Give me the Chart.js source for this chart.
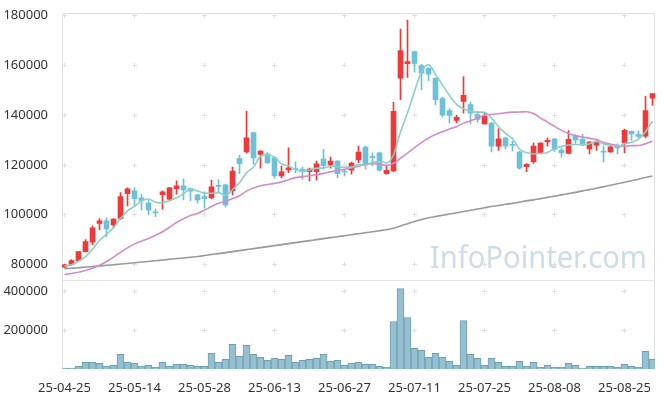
<!DOCTYPE html>
<html><head><meta charset="utf-8">
<script src="https://cdn.jsdelivr.net/npm/chart.js@4.4.1/dist/chart.umd.min.js"></script>
<style>html,body{margin:0;padding:0;background:#fff;}#wrap{position:relative;width:665px;height:398px;}</style>
</head><body><div id="wrap"><canvas id="c" width="665" height="398"></canvas></div>
<script>
const dates = ['25-04-25','25-04-28','25-04-29','25-04-30','25-05-02','25-05-07','25-05-08','25-05-09','25-05-12','25-05-13',
'25-05-14','25-05-15','25-05-16','25-05-19','25-05-20','25-05-21','25-05-22','25-05-23','25-05-26','25-05-27',
'25-05-28','25-05-29','25-05-30','25-06-02','25-06-04','25-06-05','25-06-09','25-06-10','25-06-11','25-06-12',
'25-06-13','25-06-16','25-06-17','25-06-18','25-06-19','25-06-20','25-06-23','25-06-24','25-06-25','25-06-26',
'25-06-27','25-06-30','25-07-01','25-07-02','25-07-03','25-07-04','25-07-07','25-07-08','25-07-09','25-07-10',
'25-07-11','25-07-14','25-07-15','25-07-16','25-07-17','25-07-18','25-07-21','25-07-22','25-07-23','25-07-24',
'25-07-25','25-07-28','25-07-29','25-07-30','25-07-31','25-08-01','25-08-04','25-08-05','25-08-06','25-08-07',
'25-08-08','25-08-11','25-08-12','25-08-13','25-08-14','25-08-18','25-08-19','25-08-20','25-08-21','25-08-22',
'25-08-25','25-08-26','25-08-27','25-08-28','25-08-29'];

const openP = [78900,79900,81600,85200,89000,96500,97600,95900,98500,108500,
109600,106800,104700,101000,108100,106300,110500,111600,110500,108000,
107300,106800,111800,112000,109600,122700,125300,133000,124300,124500,
122900,115600,118000,118400,118400,117300,117300,122400,120000,121600,
117500,117900,122100,127200,123300,124900,116500,117600,154900,160800,
165600,160000,158900,154900,146700,141900,137900,145600,144300,140300,
136500,136900,127600,130800,128100,125200,119300,121300,124900,129300,
130400,126000,124700,131600,130300,126500,128000,125600,125300,127500,
128900,133600,132300,131600,146900];
const highP = [80100,82000,85300,90000,95600,98500,98800,98500,108900,110800,
110900,108300,105700,102300,109600,111000,113600,114500,110700,108200,
109200,114000,114200,112300,119200,124000,141600,133200,125800,125000,
123200,119600,126900,121300,119200,118800,121600,126300,123200,121800,
118300,121200,127600,127700,124900,125200,120000,145200,174700,178300,
165800,160500,159200,155200,147200,142700,140000,155600,145300,141600,
140800,137200,134700,131200,129600,125500,120600,128900,129000,130900,
130700,126900,133900,132200,132300,129500,129700,127600,127700,128500,
134500,133800,133800,147600,148700];
const lowP = [78700,79600,81400,85000,87900,94000,91200,94900,98000,103600,
103600,102000,99900,99200,102300,106000,108300,106000,105600,104700,
102700,106500,108900,103200,108000,116500,124800,120300,118700,120500,
114700,114900,116900,116900,114300,113600,113900,118300,118700,114900,
115600,116300,120900,118300,119600,117600,116300,117300,146300,155200,
157300,150300,153900,144300,139200,136900,136900,140900,136500,137200,
136400,125300,125900,126500,125600,118300,117300,120600,124500,127600,
125500,123200,124500,128400,128000,124500,125900,121300,125100,124500,
124900,129900,131000,130900,144000];
const closeP = [79900,81600,85200,89200,94800,97600,94300,98300,107300,110400,
106500,105700,101900,100800,109200,110800,111600,110000,109500,106000,
106500,111200,111400,104000,117600,120500,130900,122900,125600,120900,
115600,117300,118900,118200,117300,118400,120500,119700,121600,116500,
117200,120800,125200,120000,123000,117900,117900,141600,166000,161600,
160900,156900,156500,146300,140000,139900,139200,148000,140900,138300,
139600,127600,130500,127600,127900,118700,120300,127600,128800,129900,
126300,124900,130300,130000,128500,129200,129300,125200,127300,126900,
134000,132500,131500,141900,148700];
const volume = [5000,5000,13700,34000,34000,29000,15400,18800,75200,34000,
29000,15400,18800,8500,34000,13700,24000,24000,18800,13700,
13700,80300,34000,49600,126500,65000,121300,75200,59800,44400,
54700,49600,70000,34000,44400,49600,54700,75200,39300,44400,
18800,29000,34000,24000,24000,13700,8500,244400,413600,264900,
106000,95700,59800,80300,59800,39300,18800,249500,75200,54700,
18800,54700,34000,13700,13700,39300,13700,34000,8500,18800,
8500,8500,29000,18800,5100,13700,13700,13700,13700,8500,
24000,13700,8500,90600,49600];
const ma5 = [79300,79900,81300,83200,86140,89680,92220,94840,98460,101580,
103360,105640,106360,105060,104820,105680,106860,108480,110220,109580,
108720,108640,108920,107820,110140,112940,116880,119180,123500,124160,
123180,120460,119660,118180,117460,118020,118660,118820,119500,119340,
119100,119160,120260,119940,121240,121380,120800,124080,133280,141000,
149600,157400,160380,156440,152120,147920,144380,142680,141600,141260,
141200,138880,135380,132720,130640,126460,125000,124420,124660,125060,
126580,127500,128040,128280,128000,128580,129460,128440,127900,127580,
128540,129180,130440,133360,137720];
const ma20 = [76000,76400,76900,77600,78500,79700,81200,83000,84900,86700,
88300,89400,90500,91800,93200,95000,96900,98400,99700,100530,
101860,103340,104650,105390,106530,107675,109505,110735,111650,112175,
112630,113210,114060,114930,115335,115715,116160,116645,117250,117775,
118310,118790,119480,120280,120550,120420,119770,120705,122725,124760,
127025,129005,130885,132290,133425,134500,135435,136850,137815,138905,
140025,140365,140630,141010,141255,141295,141415,140715,138855,137270,
135540,133940,132630,131815,131240,130705,130210,129070,128390,127820,
127540,127785,127835,128550,129590];
const ma120 = [78300,78500,78700,79000,79200,79400,79700,79900,80200,80400,
80700,81000,81200,81500,81800,82100,82400,82600,82900,83200,
83600,84000,84400,84800,85200,85600,86000,86400,86800,87200,
87600,88000,88400,88800,89200,89600,90000,90400,90800,91200,
91600,92000,92400,92800,93200,93600,94000,94600,95500,96400,
97300,98100,98800,99300,99800,100300,100800,101300,101800,102300,
102800,103300,103700,104200,104600,105100,105600,106000,106500,107000,
107500,108000,108500,109000,109600,110100,110700,111300,111900,112500,
113100,113700,114300,115000,115600];
const priceTicks = [80000,100000,120000,140000,160000,180000];
const volumeTicks = [200000,400000];
const labelStep = 10;
const watermark = 'InfoPointer.com';

const UP = '#ee3a3a', DOWN = '#6cc1d9';
const idx = dates.map((d, i) => i);
const candleColor = idx.map(i => closeP[i] >= openP[i] ? UP : DOWN);
const FONT = {family: 'Noto Sans', size: 13};

const deco = {
  id: 'deco',
  beforeDatasetsDraw(chart) {
    const {ctx, chartArea: a, scales} = chart;
    const x = scales.x, y = scales.y, yv = scales.yv;
    ctx.save();
    ctx.fillStyle = '#cddde7';
    ctx.font = '31px "Noto Sans"';
    ctx.textBaseline = 'alphabetic';
    ctx.fillText(watermark, a.right - 225, y.bottom - 12, 217);
    ctx.strokeStyle = '#e0e0e0';
    ctx.lineWidth = 1;
    const xs = x.ticks.map(t => Math.floor(x.getPixelForValue(t.value)) + 0.5);
    const rows = y.ticks.map(t => y.getPixelForValue(t.value)).concat(yv.ticks.map(t => yv.getPixelForValue(t.value))).map(p => Math.floor(p) + 0.5);
    ctx.beginPath();
    for (const px of xs) for (const py of rows) {
      ctx.moveTo(px - 2.5, py); ctx.lineTo(px + 2.5, py);
      ctx.moveTo(px, py - 2.5); ctx.lineTo(px, py + 2.5);
    }
    ctx.stroke();
    ctx.strokeStyle = '#e3e3e3';
    const L = Math.floor(a.left) + 0.5, R = Math.floor(a.right) - 0.5, T = Math.floor(a.top) + 0.5, B = Math.floor(a.bottom) - 0.5, S = Math.floor(y.bottom) + 0.5;
    ctx.beginPath();
    ctx.moveTo(L, T); ctx.lineTo(L, B);
    ctx.moveTo(R, T); ctx.lineTo(R, B);
    ctx.moveTo(L, T); ctx.lineTo(R, T);
    ctx.moveTo(L, S); ctx.lineTo(R, S);
    ctx.moveTo(L, B); ctx.lineTo(R, B);
    ctx.stroke();
    ctx.restore();
  }
};

const lineDs = (label, arr, color) => ({
  type: 'line', label, data: idx.map(i => ({x: i, y: arr[i]})), borderColor: color, borderWidth: 1.6,
  pointRadius: 0, cubicInterpolationMode: 'monotone', yAxisID: 'y', order: 0
});

const yAxis = (extra, ticksList) => Object.assign({
  type: 'linear', position: 'left', stack: 'panels',
  grid: {display: false}, border: {display: false},
  ticks: {color: '#333', font: FONT, padding: 6, callback: v => String(v)},
  afterBuildTicks: s => { s.ticks = ticksList.map(v => ({value: v})); },
  afterFit: s => { s.width = 62; }
}, extra);

new Chart(document.getElementById('c'), {
  type: 'bar',
  data: {
    datasets: [
      lineDs('MA5', ma5, '#8ccfc4'),
      lineDs('MA20', ma20, '#d08cc7'),
      lineDs('MA120', ma120, '#999999'),
      {type: 'bar', label: 'wick', data: idx.map(i => ({x: i, y: [lowP[i], highP[i]]})), backgroundColor: candleColor,
       barThickness: 1, grouped: false, yAxisID: 'y', order: 1},
      {type: 'bar', label: 'body', data: idx.map(i => ({x: i, y: [openP[i], closeP[i]]})), backgroundColor: candleColor,
       barThickness: 5, minBarLength: 1, grouped: false, yAxisID: 'y', order: 1},
      {type: 'bar', label: 'volume', data: idx.map(i => ({x: i, y: volume[i]})), backgroundColor: '#96bfcf',
       borderColor: '#6f9fb4', borderWidth: 1, barPercentage: 1, categoryPercentage: 1, grouped: false, yAxisID: 'yv', order: 2}
    ]
  },
  options: {
    responsive: false, animation: false, devicePixelRatio: 1,
    layout: {padding: {top: 12, right: 10, left: 0, bottom: 0}},
    plugins: {legend: {display: false}, tooltip: {enabled: false}},
    scales: {
      x: {type: 'linear', offset: false, min: -2.5 / 7, max: -2.5 / 7 + 593 / 7, grid: {display: false, offset: false}, border: {display: false},
          afterBuildTicks: s => { s.ticks = idx.filter(i => i % labelStep === 0).map(v => ({value: v})); },
          afterFit: s => { s.height = 29; },
          ticks: {callback: v => dates[v], color: '#333', font: FONT, padding: 3, maxRotation: 0, autoSkip: false}},
      yv: yAxis({min: 0, max: 456000, stackWeight: 89}, volumeTicks),
      y: yAxis({min: 73600, max: 180800, stackWeight: 268}, priceTicks)
    }
  },
  plugins: [deco]
});
</script>
</body></html>
